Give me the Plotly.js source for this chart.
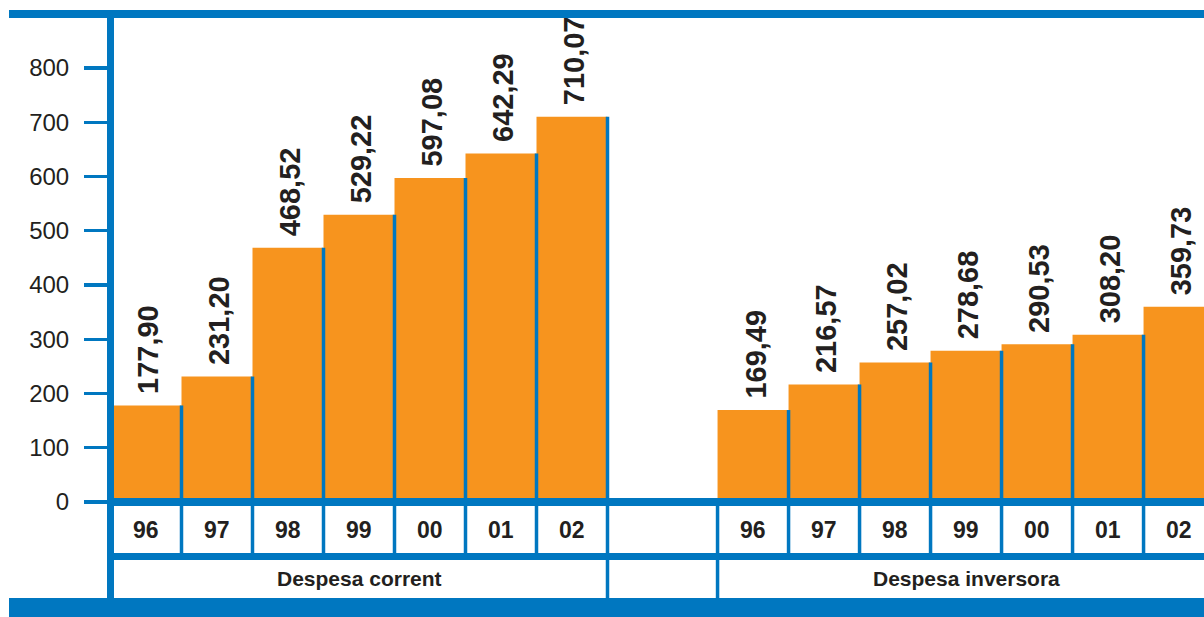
<!DOCTYPE html>
<html>
<head>
<meta charset="utf-8">
<script src="https://cdn.plot.ly/plotly-3.0.1.min.js"></script>
<style>
  html, body { margin: 0; padding: 0; background: #ffffff; }
  #chart { width: 1204px; height: 617px; }
</style>
</head>
<body>
<div id="chart"></div>
<script>
// ---- data ----
const years = ['96', '97', '98', '99', '00', '01', '02'];
const groups = ['Despesa corrent', 'Despesa inversora'];
const despesaCorrent = [177.90, 231.20, 468.52, 529.22, 597.08, 642.29, 710.07];
const despesaInversora = [169.49, 216.57, 257.02, 278.68, 290.53, 308.20, 359.73];
const yTicks = [0, 100, 200, 300, 400, 500, 600, 700, 800];

// ---- style / layout constants ----
const ORANGE = '#F7941E';
const BLUE = '#0077C0';
const TEXT = '#231F20';
const FONT = 'Liberation Sans, Arial, sans-serif';
const W = 1204, H = 617;
const M = { l: 110, r: 0, t: 18, b: 115 };
const PITCH = 71;            // px per bar
const GROUP2_OFFSET = 8.55;  // x offset of the second group (in bar units)
const plotW = W - M.l - M.r;
const plotH = H - M.t - M.b;
const xr0 = -0.5 - 0.5 / PITCH;
const xr1 = xr0 + plotW / PITCH;
const yMax = 892;

function pxX(p) { return (p - M.l) / plotW; }
function pxY(p) { return (H - M.b - p) / plotH; }
const fmt = v => v.toFixed(2).replace('.', ',');

const x1 = years.map((_, i) => i);
const x2 = years.map((_, i) => i + GROUP2_OFFSET);
const edgeW = 3.5 / PITCH;

const traces = [
  { type: 'bar', x: x1, y: despesaCorrent, width: 1, marker: { color: ORANGE, line: { width: 0 } }, hoverinfo: 'skip' },
  { type: 'bar', x: x2, y: despesaInversora, width: 1, marker: { color: ORANGE, line: { width: 0 } }, hoverinfo: 'skip' },
  { type: 'bar', x: x1, y: despesaCorrent, width: edgeW, offset: 0.5 - edgeW / 2, marker: { color: BLUE, line: { width: 0 } }, hoverinfo: 'skip' },
  { type: 'bar', x: x2, y: despesaInversora, width: edgeW, offset: 0.5 - edgeW / 2, marker: { color: BLUE, line: { width: 0 } }, hoverinfo: 'skip' }
];

const shapes = [];
function rect(xa, ya, xb, yb) {
  shapes.push({ type: 'rect', xref: 'paper', yref: 'paper', layer: 'above',
    x0: pxX(xa), x1: pxX(xb), y0: pxY(ya), y1: pxY(yb), fillcolor: BLUE, line: { width: 0 } });
}
rect(9, 10, W, 18);        // top border
rect(9, 598, W, H);        // bottom band
rect(107, 10, 114, 598);   // left axis line
rect(107, 498, W, 506);    // baseline
rect(107, 553, W, 560);    // row separator

function vline(xd, ya, yb) {
  shapes.push({ type: 'line', xref: 'x', yref: 'paper', layer: 'above',
    x0: xd, x1: xd, y0: pxY(ya), y1: pxY(yb), line: { color: BLUE, width: 3.5 } });
}
// year-row separators
x1.forEach((x, i) => { if (i < x1.length - 1) vline(x + 0.5, 506, 553); });
x2.forEach((x, i) => { if (i < x2.length - 1) vline(x + 0.5, 506, 553); });
// group boundaries (both rows)
vline(x1[x1.length - 1] + 0.5, 506, 598);
vline(x2[0] - 0.5, 506, 598);

const annotations = [];
function valueLabels(xs, vals) {
  xs.forEach((x, i) => {
    annotations.push({ x: x, y: vals[i], xref: 'x', yref: 'y', text: fmt(vals[i]),
      textangle: -90, showarrow: false, xanchor: 'center', yanchor: 'bottom', yshift: 9, xshift: 2,
      font: { family: FONT, size: 29, color: TEXT, weight: 'bold' } });
  });
}
valueLabels(x1, despesaCorrent);
valueLabels(x2, despesaInversora);

function yearLabels(xs) {
  xs.forEach((x, i) => {
    annotations.push({ x: x, y: pxY(530), xref: 'x', yref: 'paper', text: years[i],
      showarrow: false, xanchor: 'center', yanchor: 'middle',
      font: { family: FONT, size: 23, color: TEXT, weight: 'bold' } });
  });
}
yearLabels(x1);
yearLabels(x2);

[x1, x2].forEach((xs, g) => {
  annotations.push({ x: (xs[0] + xs[xs.length - 1]) / 2, y: pxY(578.5), xref: 'x', yref: 'paper',
    text: groups[g], showarrow: false, xanchor: 'center', yanchor: 'middle',
    font: { family: FONT, size: 21, color: TEXT, weight: 'bold' } });
});

const layout = {
  width: W, height: H,
  margin: M,
  paper_bgcolor: '#ffffff', plot_bgcolor: '#ffffff',
  barmode: 'overlay',
  showlegend: false,
  xaxis: { range: [xr0, xr1], visible: false, fixedrange: true },
  yaxis: {
    range: [0, yMax], tickvals: yTicks, ticktext: yTicks.map(String),
    ticks: 'outside', ticklen: 25, tickwidth: 3.3, tickcolor: BLUE,
    showline: false, showgrid: false, zeroline: false, ticklabelstandoff: 10,
    tickfont: { family: FONT, size: 24, color: TEXT }, fixedrange: true
  },
  shapes: shapes,
  annotations: annotations
};

Plotly.newPlot('chart', traces, layout, { displayModeBar: false, staticPlot: true });
</script>
</body>
</html>
